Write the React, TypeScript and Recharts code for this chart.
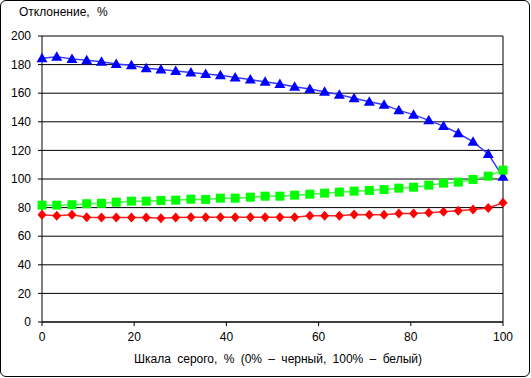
import React from 'react';
import { LineChart, Line, XAxis, YAxis, CartesianGrid, ReferenceLine } from 'recharts';

// Grey level steps, % (32 steps from black to white)
const grayScale = [
  0, 3.2, 6.5, 9.7, 12.9, 16.1, 19.4, 22.6, 25.8, 29.0, 32.3, 35.5, 38.7, 41.9, 45.2, 48.4,
  51.6, 54.8, 58.1, 61.3, 64.5, 67.7, 71.0, 74.2, 77.4, 80.6, 83.9, 87.1, 90.3, 93.5, 96.8, 100,
];

// deviation, % per channel
const blueValues = [
  184.5, 185.5, 184, 183, 182, 180.5, 179.5, 177.5, 176.5, 175.5, 174.5, 173.5, 172.5, 171, 169.5, 168,
  166.5, 164.5, 163, 161, 159, 156.5, 154, 152, 148, 145, 141, 137, 132, 126, 117.5, 101.5,
];
const greenValues = [
  81.7, 81.7, 82, 82.7, 83, 83.8, 84.5, 84.5, 85, 85.2, 85.9, 85.7, 86.6, 86.6, 87.3, 88,
  88, 88.7, 89.4, 90.1, 90.8, 91.5, 92, 92.6, 93.6, 94.3, 95.7, 97.1, 97.8, 99.7, 102, 106.2,
];
const redValues = [
  75, 74.3, 75, 73.3, 73.1, 73.1, 73.1, 73.1, 72.6, 73.1, 73.2, 73.3, 73.3, 73.3, 73.3, 73.3,
  73.3, 73.3, 74.3, 74.3, 74.3, 75.2, 75, 75, 75.9, 75.9, 76.4, 77.1, 77.8, 78.7, 79.7, 83.4,
];

const xTicks = [0, 20, 40, 60, 80, 100];
const yTicks = [0, 20, 40, 60, 80, 100, 120, 140, 160, 180, 200];

const data = grayScale.map((x, i) => ({
  x,
  blue: blueValues[i],
  green: greenValues[i],
  red: redValues[i],
}));

const font = '"Liberation Sans", Arial, sans-serif';

const TriangleDot = (props: any) => {
  const { cx, cy, index } = props;
  if (cx == null || cy == null) return null;
  return (
    <path
      key={`tri-${index}`}
      d={`M${cx},${cy - 5.5} L${cx + 5.5},${cy + 4} L${cx - 5.5},${cy + 4} Z`}
      fill="#0000ff"
    />
  );
};

const SquareDot = (props: any) => {
  const { cx, cy, index } = props;
  if (cx == null || cy == null) return null;
  return <rect key={`sq-${index}`} x={cx - 4.5} y={cy - 4.5} width={9} height={9} fill="#00ff00" />;
};

const DiamondDot = (props: any) => {
  const { cx, cy, index } = props;
  if (cx == null || cy == null) return null;
  return (
    <path
      key={`dm-${index}`}
      d={`M${cx},${cy - 5} L${cx + 4.5},${cy} L${cx},${cy + 5} L${cx - 4.5},${cy} Z`}
      fill="#ff0000"
    />
  );
};

export default function App() {
  return (
    <div style={{ position: 'absolute', left: 0, top: 0, width: 531, height: 378, fontFamily: font }}>
      <div
        style={{
          position: 'absolute',
          left: 0,
          top: 0,
          width: 530,
          height: 377,
          border: '1px solid #000',
          borderRadius: 6,
          boxSizing: 'border-box',
        }}
      />
      <LineChart
        width={531}
        height={378}
        data={data}
        margin={{ top: 36, right: 28, left: 8, bottom: 30 }}
        style={{ position: 'absolute', left: 0, top: 0 }}
      >
        <CartesianGrid vertical={false} stroke="#000" strokeOpacity={1} />
        <XAxis
          dataKey="x"
          type="number"
          domain={[0, 100]}
          ticks={xTicks}
          height={26}
          tickSize={4}
          tickMargin={6}
          stroke="#000"
          tick={{ fill: '#000', fontSize: 12, fontFamily: font }}
        />
        <YAxis
          type="number"
          domain={[0, 200]}
          ticks={yTicks}
          width={34}
          tickSize={4}
          tickMargin={7}
          stroke="#000"
          tick={{ fill: '#000', fontSize: 12, fontFamily: font }}
        />
        <ReferenceLine x={100} stroke="#000" />
        <Line
          dataKey="blue"
          stroke="#3a3aff"
          strokeWidth={1.5}
          dot={TriangleDot}
          activeDot={false}
          isAnimationActive={false}
        />
        <Line
          dataKey="green"
          stroke="#44ff44"
          strokeWidth={1.5}
          dot={SquareDot}
          activeDot={false}
          isAnimationActive={false}
        />
        <Line
          dataKey="red"
          stroke="#ff2222"
          strokeWidth={1.5}
          dot={DiamondDot}
          activeDot={false}
          isAnimationActive={false}
        />
      </LineChart>
      <div style={{ position: 'absolute', left: 19, top: 5, fontSize: 12, wordSpacing: 4, color: '#000' }}>
        Отклонение, %
      </div>
      <div
        style={{
          position: 'absolute',
          left: 0,
          width: 556,
          top: 352,
          textAlign: 'center',
          fontSize: 12,
          wordSpacing: 3,
          color: '#000',
        }}
      >
        Шкала серого, % (0% – черный, 100% – белый)
      </div>
    </div>
  );
}
